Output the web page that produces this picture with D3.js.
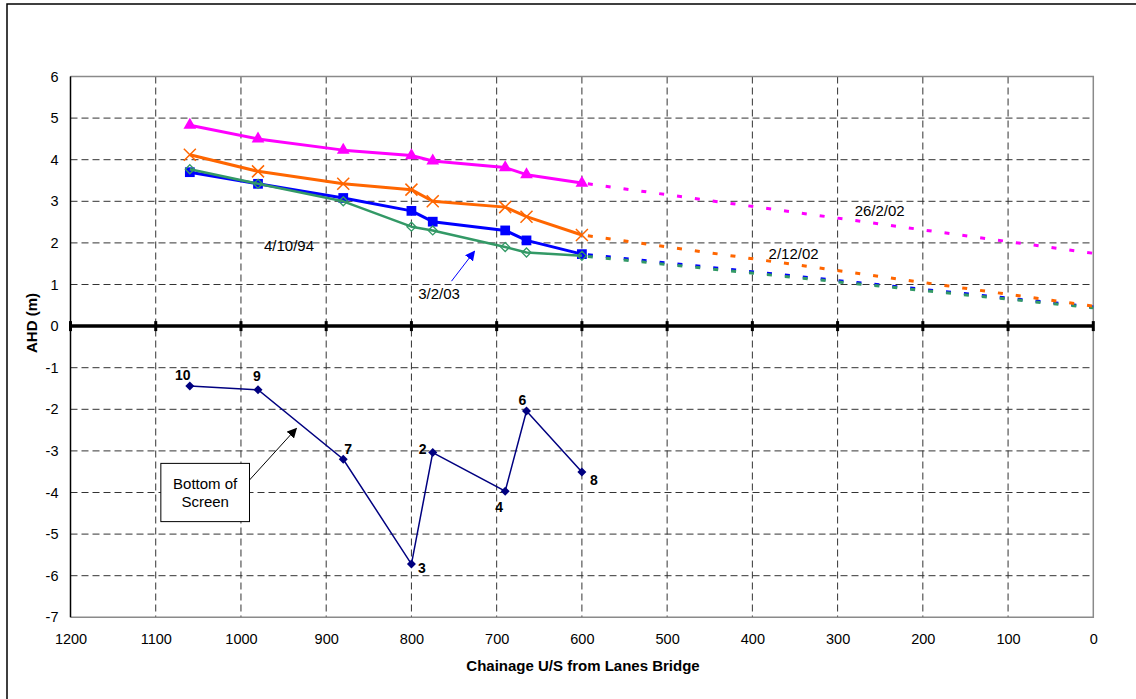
<!DOCTYPE html>
<html>
<head>
<meta charset="utf-8">
<script src="https://cdn.jsdelivr.net/npm/d3@7"></script>
<style>
  body { margin: 0; background: #fff; }
  svg { display: block; font-family: Arial, "Liberation Sans", sans-serif; }
  .tick text { font-family: Arial, "Liberation Sans", sans-serif; font-size: 14.5px; fill: #000; }
  .grid line { stroke: #333; stroke-width: 1; stroke-dasharray: 7,4; }
</style>
</head>
<body>
<script>
// chainage of the surveyed cross sections (m U/S from Lanes Bridge)
const chainage = [1060, 980, 880, 800, 775, 690, 665, 600];

// flood levels (AHD m)
const level_260202 = [4.83, 4.50, 4.23, 4.10, 3.97, 3.81, 3.64, 3.44];
const level_021202 = [4.12, 3.72, 3.42, 3.28, 3.00, 2.86, 2.63, 2.19];
const level_030203 = [3.70, 3.42, 3.08, 2.77, 2.51, 2.30, 2.06, 1.73];
const level_041094 = [3.77, 3.42, 3.00, 2.39, 2.30, 1.90, 1.77, 1.69];

// projected levels downstream (dotted), from 600 m to the bridge
const extChainage = [600, 0];
const ext_260202 = [3.44, 1.75];
const ext_021202 = [2.19, 0.48];
const ext_030203 = [1.73, 0.46];
const ext_041094 = [1.69, 0.44];

// bottom of screen, numbered cross sections
const screenLabels = ["10", "9", "7", "3", "2", "4", "6", "8"];
const screenLevel = [-1.44, -1.53, -3.20, -5.72, -3.04, -3.97, -2.04, -3.51];

const xTicks = d3.range(1200, -1, -100);
const yTicks = d3.range(-7, 7, 1);

const W = 1136, H = 699;
const plot = { left: 70.5, right: 1093.3, top: 76.5, bottom: 617.3 };

const svg = d3.select("body").append("svg")
  .attr("width", W)
  .attr("height", H);

// outer chart frame (runs off the right/bottom of the picture)
svg.append("rect")
  .attr("x", 7).attr("y", 4)
  .attr("width", W + 20).attr("height", H + 20)
  .attr("fill", "#fff")
  .attr("stroke", "#000")
  .attr("stroke-width", 1.5);

const x = d3.scaleLinear().domain([1200, 0]).range([plot.left, plot.right]);
const y = d3.scaleLinear().domain([6, -7]).range([plot.top, plot.bottom]);

/* grid */
const grid = svg.append("g").attr("class", "grid");
grid.selectAll("line.h")
  .data(yTicks.filter(d => d !== 0 && d !== -7))
  .enter().append("line")
    .attr("class", "h")
    .attr("x1", plot.left).attr("x2", plot.right)
    .attr("y1", d => y(d)).attr("y2", d => y(d));
grid.selectAll("line.v")
  .data(xTicks.filter(d => d !== 1200 && d !== 0))
  .enter().append("line")
    .attr("class", "v")
    .attr("y1", plot.top).attr("y2", plot.bottom)
    .attr("x1", d => x(d)).attr("x2", d => x(d));

// plot area border (top, right, bottom)
svg.append("path")
  .attr("d", `M${plot.left},${plot.top}H${plot.right}V${plot.bottom}H${plot.left}`)
  .attr("fill", "none")
  .attr("stroke", "#8a8a8a")
  .attr("stroke-width", 1.5);

// left axis
svg.append("line")
  .attr("x1", plot.left).attr("x2", plot.left)
  .attr("y1", plot.top).attr("y2", plot.bottom)
  .attr("stroke", "#000").attr("stroke-width", 1.5);

const yAxis = svg.append("g")
  .attr("transform", `translate(${plot.left},0)`)
  .call(d3.axisLeft(y).tickValues(yTicks).tickSize(0).tickPadding(12).tickFormat(d => String(d)));
yAxis.select(".domain").remove();

const xAxis = svg.append("g")
  .attr("transform", `translate(0,${plot.bottom})`)
  .call(d3.axisBottom(x).tickValues(xTicks).tickSize(0).tickPadding(16).tickFormat(d => String(d)));
xAxis.select(".domain").remove();

// zero line with tick marks
svg.append("line")
  .attr("x1", plot.left).attr("x2", plot.right)
  .attr("y1", y(0)).attr("y2", y(0))
  .attr("stroke", "#000").attr("stroke-width", 3.5);
svg.append("g").selectAll("line")
  .data(xTicks)
  .enter().append("line")
    .attr("x1", d => x(d)).attr("x2", d => x(d))
    .attr("y1", y(0) - 5).attr("y2", y(0) + 5)
    .attr("stroke", "#000").attr("stroke-width", 3);

// axis titles
svg.append("text")
  .attr("transform", `translate(31,323) rotate(-90)`)
  .attr("text-anchor", "middle")
  .attr("dominant-baseline", "central")
  .attr("font-weight", "bold")
  .attr("font-size", 15)
  .text("AHD (m)");
svg.append("text")
  .attr("x", 583).attr("y", 665)
  .attr("text-anchor", "middle")
  .attr("dominant-baseline", "central")
  .attr("font-weight", "bold")
  .attr("font-size", 15)
  .text("Chainage U/S from Lanes Bridge");

/* series */
const line = d3.line().x(d => x(d[0])).y(d => y(d[1]));
const zipPts = (xs, ys) => xs.map((v, i) => [v, ys[i]]);

const series = [
  { vals: level_260202, ext: ext_260202, color: "#ff00ff", width: 3, marker: "triangle" },
  { vals: level_021202, ext: ext_021202, color: "#ff6600", width: 3, marker: "cross" },
  { vals: level_030203, ext: ext_030203, color: "#0000ff", width: 3, marker: "square" },
  { vals: level_041094, ext: ext_041094, color: "#339966", width: 2.5, marker: "diamond" },
];

const lines = svg.append("g").attr("class", "series");

// dotted projections first
[2, 3, 1, 0].forEach(i => {
  const s = series[i];
  lines.append("path")
    .attr("d", line(zipPts(extChainage, s.ext)))
    .attr("fill", "none")
    .attr("stroke", s.color)
    .attr("stroke-width", 3)
    .attr("stroke-dasharray", "5,13")
    .attr("stroke-dashoffset", -6);
});

series.forEach(s => {
  const pts = zipPts(chainage, s.vals);
  lines.append("path")
    .attr("d", line(pts))
    .attr("fill", "none")
    .attr("stroke", s.color)
    .attr("stroke-width", s.width)
    .attr("stroke-linejoin", "round");

  const m = lines.append("g").selectAll("path")
    .data(pts)
    .enter().append("path")
      .attr("transform", d => `translate(${x(d[0])},${y(d[1])})`);
  if (s.marker === "triangle") {
    m.attr("d", d3.symbol(d3.symbolTriangle, 70)).attr("fill", s.color);
  } else if (s.marker === "square") {
    m.attr("d", d3.symbol(d3.symbolSquare, 95)).attr("fill", s.color);
  } else if (s.marker === "cross") {
    m.attr("d", "M-6,-6L6,6M-6,6L6,-6").attr("stroke", s.color).attr("stroke-width", 1.5).attr("fill", "none");
  } else {
    m.attr("d", "M0,-4.5L4.5,0L0,4.5L-4.5,0Z").attr("stroke", s.color).attr("stroke-width", 1.3).attr("fill", "none");
  }
});

// bottom of screen
const screenPts = zipPts(chainage, screenLevel);
const screenG = svg.append("g");
screenG.append("path")
  .attr("d", line(screenPts))
  .attr("fill", "none")
  .attr("stroke", "#000080")
  .attr("stroke-width", 1.5);
screenG.selectAll("path.pt")
  .data(screenPts)
  .enter().append("path")
    .attr("class", "pt")
    .attr("d", "M0,-4.5L4.5,0L0,4.5L-4.5,0Z")
    .attr("fill", "#000080")
    .attr("transform", d => `translate(${x(d[0])},${y(d[1])})`);

const labelOffsets = [[-7, -11], [-1, -14], [5, -10], [10.5, 3.5], [-10, -3.5], [-6, 15.5], [-4, -10.5], [12, 7.5]];
screenG.selectAll("text")
  .data(screenPts)
  .enter().append("text")
    .attr("x", (d, i) => x(d[0]) + labelOffsets[i][0])
    .attr("y", (d, i) => y(d[1]) + labelOffsets[i][1])
    .attr("text-anchor", "middle")
    .attr("dominant-baseline", "central")
    .attr("font-weight", "bold")
    .attr("font-size", 14)
    .text((d, i) => screenLabels[i]);

/* annotations */
const defs = svg.append("defs");
const arrowHead = (id, color) => defs.append("marker")
  .attr("id", id)
  .attr("viewBox", "0 0 10 10")
  .attr("refX", 9).attr("refY", 5)
  .attr("markerWidth", 10).attr("markerHeight", 10)
  .attr("markerUnits", "userSpaceOnUse")
  .attr("orient", "auto")
  .append("path")
    .attr("d", "M0,0L10,5L0,10Z")
    .attr("fill", color);
arrowHead("ah-blue", "#0000ff");
arrowHead("ah-black", "#000");

const note = (cx, cy, txt) => svg.append("text")
  .attr("x", x(cx)).attr("y", y(cy))
  .attr("dominant-baseline", "central")
  .attr("font-size", 15)
  .text(txt);
note(973, 1.93, "4/10/94");
note(792, 0.78, "3/2/03");
note(280, 2.77, "26/2/02");
note(381, 1.75, "2/12/02");

svg.append("line")
  .attr("x1", x(753)).attr("y1", y(1.08))
  .attr("x2", x(726)).attr("y2", y(1.80))
  .attr("stroke", "#0000ff").attr("stroke-width", 1)
  .attr("marker-end", "url(#ah-blue)");

// callout box
svg.append("rect")
  .attr("x", x(1094)).attr("y", y(-3.30))
  .attr("width", x(990) - x(1094)).attr("height", y(-4.70) - y(-3.30))
  .attr("fill", "#fff").attr("stroke", "#000").attr("stroke-width", 1);
svg.append("text")
  .attr("x", (x(1094) + x(990)) / 2).attr("y", y(-3.30) + 20)
  .attr("text-anchor", "middle").attr("dominant-baseline", "central")
  .attr("font-size", 15)
  .text("Bottom of");
svg.append("text")
  .attr("x", (x(1094) + x(990)) / 2).attr("y", y(-3.30) + 38)
  .attr("text-anchor", "middle").attr("dominant-baseline", "central")
  .attr("font-size", 15)
  .text("Screen");
svg.append("line")
  .attr("x1", x(990)).attr("y1", y(-3.70))
  .attr("x2", x(935)).attr("y2", y(-2.46))
  .attr("stroke", "#000").attr("stroke-width", 1)
  .attr("marker-end", "url(#ah-black)");
</script>
</body>
</html>
